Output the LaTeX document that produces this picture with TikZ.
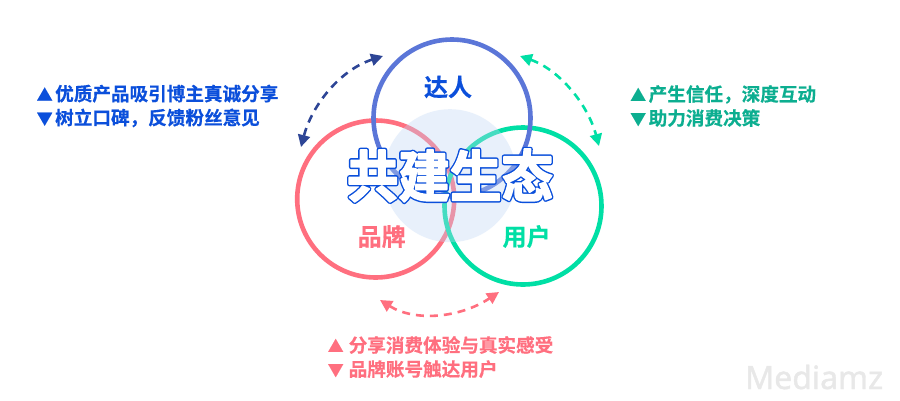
\documentclass[tikz,border=0pt]{standalone}
\usepackage{graphicx}
\usepackage{fontspec}
\setmainfont{Noto Sans CJK SC}[BoldFont={Noto Sans CJK SC Bold}]
\newfontfamily\cjkb{Noto Sans CJK SC Bold}
\newfontfamily\cjkh{Noto Sans CJK SC Bold}[FakeBold=0.4]
\newfontfamily\wm{Noto Sans}[FakeBold=1.2]
\usetikzlibrary{arrows.meta}
\definecolor{cblue}{HTML}{5B76D8}
\definecolor{cred}{HTML}{FF6F7F}
\definecolor{cgreen}{HTML}{00DFA5}
\definecolor{tblue}{HTML}{0B4FDB}
\definecolor{tgreen}{HTML}{0CAE90}
\definecolor{adark}{HTML}{2D4596}
\definecolor{pale}{HTML}{C0D8F5}
\newcommand{\up}{{\fontsize{16}{16}\selectfont ▲}}
\newcommand{\dn}{{\fontsize{16}{16}\selectfont ▼}}
\newcommand{\fw}{\symbol{"FF0C}}
\newcommand{\ttltext}{共建生态}
\tikzset{
 x=1pt,y=-1pt,
 ring/.style={circle,draw=#1,line width=4.6pt,minimum size=157pt,inner sep=0pt,outer sep=0pt},
 note/.style={text=#1,font=\cjkh\fontsize{18.6}{24}\selectfont,align=left,anchor=west,inner sep=0pt},
 role/.style={text=#1,font=\cjkh\fontsize{24}{28}\selectfont,inner sep=0pt},
 link/.style={draw=#1,line width=2.6pt,dash pattern=on 8pt off 6pt,{Triangle[length=12pt,width=12pt,fill=#1,color=#1]}-{Triangle[length=12pt,width=12pt,fill=#1,color=#1]}},
}
\begin{document}
\begin{tikzpicture}
\useasboundingbox (0,0) rectangle (900,400);
\fill[white] (0,0) rectangle (900,400);
\node[ring=cred] (pinpai) at (375.7,199) {};
\node[ring=cgreen] (yonghu) at (523,206) {};
\node[ring=cblue] (daren) at (452,118) {};
\node[circle,fill=pale,fill opacity=.36,minimum size=133pt,inner sep=0pt] (core) at (450,175.7) {};
\node[role=tblue] (t1) at (448,87) {达人};
\node[role=cred] (t2) at (381.7,236.5) {品牌};
\node[role=cgreen] (t3) at (526.6,236.5) {用户};
\node[inner sep=0pt,text=white,font=\cjkb\fontsize{51.5}{56}\selectfont] (title) at (450,175.5)
 {\scalebox{1}[1.08]{\special{pdf:code q 1 Tr 1 j 0.04 0.31 0.86 RG 4.3 w}\rlap{\ttltext}\special{pdf:code 1 1 1 RG 1.6 w 2 Tr}\ttltext\special{pdf:code 0 Tr Q}}};
\node[note=tblue] (n1) at (36.5,106) {\up\hspace{2.5pt}优质产品吸引博主真诚分享\\\dn\hspace{2.5pt}树立口碑\fw 反馈粉丝意见};
\node[note=tgreen] (n2) at (630,106) {\up\hspace{2.5pt}产生信任\fw 深度互动\\\dn\hspace{2.5pt}助力消费决策};
\node[note=cred] (n3) at (327.5,357) {\up\hspace{5pt}分享消费体验与真实感受\\\dn\hspace{5pt}品牌账号触达用户};
\node[inner sep=0pt,anchor=west,text=black!9,font=\wm\fontsize{32}{36}\selectfont] (mark) at (745,377) {Mediamz};
\coordinate (a1) at (383,56); \coordinate (a2) at (301,147);
\coordinate (b1) at (520,56); \coordinate (b2) at (599,146);
\coordinate (c1) at (380,300); \coordinate (c2) at (499,292);
\draw[link=adark] (a1) .. controls (340,70) and (312,105) .. (a2);
\draw[link=cgreen] (b1) .. controls (560,70) and (588,105) .. (b2);
\draw[link=cred] (c1) .. controls (415,322) and (460,318) .. (c2);
\end{tikzpicture}
\end{document}
